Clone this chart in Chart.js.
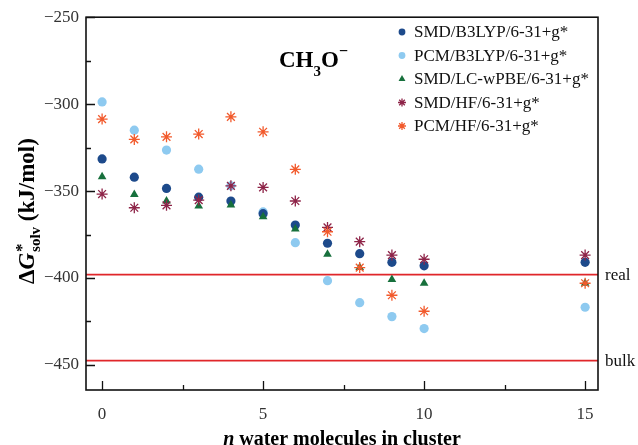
<!DOCTYPE html>
<html><head><meta charset="utf-8">
<script src="https://cdn.jsdelivr.net/npm/chart.js@4.4.0/dist/chart.umd.min.js"></script>
<style>html,body{margin:0;padding:0;background:#fff;} #c{display:block;}</style>
</head><body>
<canvas id="c" width="638" height="445"></canvas>
<script>
// ---- data ----
const nWaters = [0, 1, 2, 3, 4, 5, 6, 7, 8, 9, 10, 15];
const smdB3lyp = [-331.5, -342, -348.5, -353.5, -355.7, -363, -369.5, -380, -386, -391, -393, -391];
const pcmB3lyp = [-298.7, -315, -326.4, -337.4, -347, -362, -379.7, -401.5, -414.2, -422.2, -429.1, -416.8];
const smdLcwpbe = [-341.8, -352, -355.7, -358.6, -358, -364.8, -371.8, -386.4, -394, -400.8, -403, -403];
const smdHf = [-351.7, -359.6, -358.2, -355.2, -347, -347.9, -355.7, -370.9, -379.1, -386.8, -389.2, -386.8];
const pcmHf = [-308.6, -320.3, -318.8, -317.2, -307.3, -315.9, -337.5, -373.4, -394, -409.9, -419.1, -403];
const seriesLabels = ['SMD/B3LYP/6-31+g*', 'PCM/B3LYP/6-31+g*', 'SMD/LC-wPBE/6-31+g*', 'SMD/HF/6-31+g*', 'PCM/HF/6-31+g*'];
const refLabels = ['real', 'bulk'];
const refValues = [-398, -447.5];
const yTicks = [-250, -300, -350, -400, -450];
const yMinorTicks = [-275, -325, -375, -425];
const xTicks = [0, 5, 10, 15];
const xMinorTicks = [2.5, 7.5, 12.5];
const titleMain = 'CH';
const titleSub = '3';
const titleEnd = 'O';
const titleSup = '\u2212';

// ---- styles ----
const SERIF = '"Liberation Serif", "Times New Roman", serif';
const seriesValues = [smdB3lyp, pcmB3lyp, smdLcwpbe, smdHf, pcmHf];
const seriesStyle = [
  {color: '#1d4a8b', style: 'circle', r: 4.6, bw: 0, order: 4},
  {color: '#8ecaf0', style: 'circle', r: 4.6, bw: 0, order: 5},
  {color: '#17703c', style: 'triangle', r: 5, bw: 0, order: 3},
  {color: '#8e2448', style: 'star', r: 5.5, bw: 1.3, order: 2},
  {color: '#f25a2c', style: 'star', r: 5.5, bw: 1.3, order: 1}
];

const datasets = seriesValues.map((vals, i) => ({
  label: seriesLabels[i],
  data: nWaters.map((n, k) => ({x: n, y: vals[k]})),
  pointStyle: seriesStyle[i].style,
  pointRadius: seriesStyle[i].r,
  pointHoverRadius: seriesStyle[i].r,
  backgroundColor: seriesStyle[i].color,
  borderColor: seriesStyle[i].color,
  pointBorderWidth: seriesStyle[i].bw,
  order: seriesStyle[i].order,
  showLine: false
}));
refValues.forEach((v, i) => {
  datasets.push({
    type: 'line', label: refLabels[i],
    data: [{x: -0.5, y: v}, {x: 15.4, y: v}],
    borderColor: '#e0262a', borderWidth: 1.8, pointRadius: 0, order: 10, fill: false
  });
});

const extras = {
  id: 'extras',
  afterDraw(chart) {
    const ctx = chart.ctx, a = chart.chartArea;
    const xs = chart.scales.x, ys = chart.scales.y;
    ctx.save();
    // frame
    ctx.strokeStyle = '#111'; ctx.lineWidth = 1.6;
    ctx.strokeRect(a.left, a.top, a.right - a.left, a.bottom - a.top);
    // ticks (inward)
    ctx.lineWidth = 1.3;
    ctx.beginPath();
    xTicks.forEach(v => { const p = Math.round(xs.getPixelForValue(v)) + 0.5; ctx.moveTo(p, a.bottom); ctx.lineTo(p, a.bottom - 9); });
    xMinorTicks.forEach(v => { const p = Math.round(xs.getPixelForValue(v)) + 0.5; ctx.moveTo(p, a.bottom); ctx.lineTo(p, a.bottom - 5); });
    yTicks.forEach(v => { const p = Math.round(ys.getPixelForValue(v)) + 0.5; ctx.moveTo(a.left, p); ctx.lineTo(a.left + 9, p); });
    yMinorTicks.forEach(v => { const p = Math.round(ys.getPixelForValue(v)) + 0.5; ctx.moveTo(a.left, p); ctx.lineTo(a.left + 5, p); });
    ctx.stroke();

    // ref labels
    ctx.fillStyle = '#111';
    ctx.font = '17px ' + SERIF;
    ctx.textAlign = 'left'; ctx.textBaseline = 'middle';
    refValues.forEach((v, i) => ctx.fillText(refLabels[i], a.right + 7, ys.getPixelForValue(v) + 1));

    // legend
    ctx.font = '17px ' + SERIF;
    seriesLabels.forEach((lab, i) => {
      const y = 32 + 23.5 * i;
      const st = seriesStyle[i];
      ctx.fillStyle = st.color; ctx.strokeStyle = st.color;
      ctx.lineWidth = st.bw || 1;
      Chart.helpers.drawPoint(ctx, {pointStyle: st.style, rotation: 0, radius: st.style === 'circle' ? 3.4 : 4, borderWidth: st.bw}, 402, y);
      ctx.fillStyle = '#111';
      ctx.textAlign = 'left'; ctx.textBaseline = 'middle';
      ctx.fillText(lab, 414, y + 1);
    });

    // title CH3O-
    ctx.fillStyle = '#000';
    ctx.textBaseline = 'alphabetic'; ctx.textAlign = 'left';
    let x = 279;
    ctx.font = 'bold 23px ' + SERIF;
    ctx.fillText(titleMain, x, 67); x += ctx.measureText(titleMain).width;
    ctx.font = 'bold 15px ' + SERIF;
    ctx.fillText(titleSub, x, 76); x += ctx.measureText(titleSub).width;
    ctx.font = 'bold 23px ' + SERIF;
    ctx.fillText(titleEnd, x, 67); x += ctx.measureText(titleEnd).width;
    ctx.font = 'bold 16px ' + SERIF;
    ctx.fillText(titleSup, x, 56);

    // y axis title
    ctx.save();
    ctx.translate(34, 211);
    ctx.rotate(-Math.PI / 2);
    const big = 'bold 23px ' + SERIF, bigI = 'italic bold 23px ' + SERIF, small = 'bold 15px ' + SERIF;
    const parts = ['\u0394', 'G', '*', 'solv', ' (kJ/mol)'];
    ctx.font = big; const w0 = ctx.measureText(parts[0]).width;
    ctx.font = bigI; const w1 = ctx.measureText(parts[1]).width;
    ctx.font = small; const w3 = ctx.measureText(parts[3]).width;
    ctx.font = big; const w4 = ctx.measureText(parts[4]).width;
    const total = w0 + w1 + w3 + w4 + 1;
    let px = -total / 2;
    ctx.fillStyle = '#000'; ctx.textBaseline = 'alphabetic';
    ctx.font = big; ctx.fillText(parts[0], px, 0); px += w0;
    ctx.font = bigI; ctx.fillText(parts[1], px, 0); px += w1 + 1;
    ctx.font = 'bold 17px ' + SERIF; ctx.fillText(parts[2], px, -7);
    ctx.font = small; ctx.fillText(parts[3], px, 6); px += w3;
    ctx.font = big; ctx.fillText(parts[4], px, 0);
    ctx.restore();

    // x axis title
    ctx.font = 'italic bold 20px ' + SERIF;
    const nW = ctx.measureText('n').width;
    ctx.font = 'bold 20px ' + SERIF;
    const rest = ' water molecules in cluster';
    const rW = ctx.measureText(rest).width;
    let tx = (a.left + a.right) / 2 - (nW + rW) / 2;
    ctx.textBaseline = 'alphabetic';
    ctx.font = 'italic bold 20px ' + SERIF; ctx.fillText('n', tx, 445);
    ctx.font = 'bold 20px ' + SERIF; ctx.fillText(rest, tx + nW, 445);
    ctx.restore();
  }
};

new Chart(document.getElementById('c'), {
  type: 'scatter',
  data: {datasets},
  options: {
    responsive: false, animation: false, devicePixelRatio: 1,
    layout: {padding: {left: 0, right: 40, top: 17, bottom: 0}},
    plugins: {legend: {display: false}, tooltip: {enabled: false}},
    scales: {
      x: {
        type: 'linear', min: -0.5, max: 15.4,
        afterFit: s => { s.height = 55; },
        afterBuildTicks: s => { s.ticks = xTicks.map(v => ({value: v})); },
        grid: {display: false, drawTicks: false},
        border: {display: false},
        ticks: {padding: 14, color: '#333', font: {family: SERIF, size: 17}, maxRotation: 0}
      },
      y: {
        type: 'linear', min: -464.4, max: -250,
        afterFit: s => { s.width = 86; },
        afterBuildTicks: s => { s.ticks = yTicks.map(v => ({value: v})); },
        grid: {display: false, drawTicks: false},
        border: {display: false},
        ticks: {padding: 7, color: '#333', font: {family: SERIF, size: 17},
          callback: v => String(v).replace('-', '\u2212')}
      }
    }
  },
  plugins: [extras]
});
</script>
</body></html>
